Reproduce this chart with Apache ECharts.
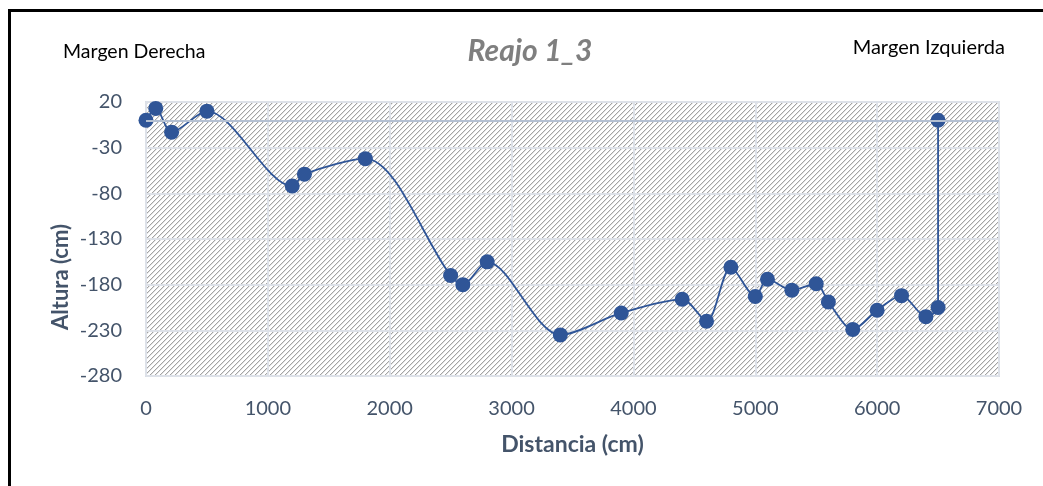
<!DOCTYPE html>
<html>
<head>
<meta charset="utf-8">
<script src="https://cdn.jsdelivr.net/npm/echarts@6/dist/echarts.min.js"></script>
<style>
html, body { margin: 0; padding: 0; background: #fff; }
#main { width: 1043px; height: 486px; }
</style>
</head>
<body>
<div id="main"></div>
<script>
// distancia (cm) y altura (cm) de cada punto del perfil
var distancia = [0, 80, 210, 500, 1200, 1300, 1800, 2500, 2600, 2800, 3400, 3900, 4400, 4600, 4800, 5000, 5100, 5300, 5500, 5600, 5800, 6000, 6200, 6400, 6500, 6500];
var altura = [0, 13, -13, 10, -72, -59, -42, -170, -180, -155, -235, -211, -196, -220, -161, -193, -174, -186, -179, -199, -229, -208, -192, -215, -205, 0];

var titulo = 'Reajo 1_3';
var margenDer = 'Margen Derecha';
var margenIzq = 'Margen Izquierda';
var nombreX = 'Distancia (cm)';
var nombreY = 'Altura (cm)';

var azul = '#2f5597';
var textoEje = '#44546a';
var fuente = 'Lato';

// trama rayada del area de trazado
function trama() {
	var c = document.createElement('canvas');
	c.width = 5;
	c.height = 5;
	var ctx = c.getContext('2d');
	ctx.fillStyle = '#fff';
	ctx.fillRect(0, 0, 5, 5);
	for (var i = 0; i < 5; i++) {
		ctx.fillStyle = '#a3a3a3';
		ctx.fillRect(i, 4 - i, 1, 1);
		ctx.fillStyle = '#e2e2e2';
		ctx.fillRect((i + 1) % 5, 4 - i, 1, 1);
	}
	return c;
}

var puntos = [];
for (var i = 0; i < distancia.length; i++) {
	puntos.push([distancia[i], altura[i]]);
}

var myChart = echarts.init(document.getElementById('main'));
var option = {
	backgroundColor: '#fff',
	animation: false,
	grid: {
		left: 146,
		right: 44,
		top: 102,
		bottom: 110,
		show: true,
		backgroundColor: { image: trama(), repeat: 'repeat' },
		borderColor: '#d9dde4',
		borderWidth: 2
	},
	graphic: [
		{ type: 'rect', shape: { x: 8, y: 9, width: 3, height: 480 }, style: { fill: '#000' } },
		{ type: 'rect', shape: { x: 8, y: 9, width: 1040, height: 3 }, style: { fill: '#000' } },
		{
			type: 'text', x: 63, y: 52,
			style: { text: margenDer, font: '19.5px ' + fuente, fill: '#000', textVerticalAlign: 'middle' }
		},
		{
			type: 'text', x: 1005, y: 48,
			style: { text: margenIzq, font: '20px ' + fuente, fill: '#000', textAlign: 'right', textVerticalAlign: 'middle' }
		},
		{
			type: 'text', x: 530, y: 51,
			style: { text: titulo, font: 'italic bold 30px ' + fuente, fill: '#7f7f7f', textAlign: 'center', textVerticalAlign: 'middle' }
		},
		{
			type: 'text', x: 61, y: 277, rotation: Math.PI / 2,
			style: { text: nombreY, font: 'bold 22px ' + fuente, fill: textoEje, textAlign: 'center', textVerticalAlign: 'middle' }
		}
	],
	xAxis: {
		type: 'value',
		min: 0,
		max: 7000,
		interval: 1000,
		name: nombreX,
		nameLocation: 'middle',
		nameGap: 57,
		nameTextStyle: { color: textoEje, fontSize: 23, fontWeight: 'bold', fontFamily: fuente },
		axisLine: { show: false, onZero: false },
		axisTick: { show: false },
		axisLabel: {
			color: textoEje, fontSize: 20, fontFamily: fuente, margin: 23,
			formatter: function (v) { return String(v); }
		},
		splitLine: { show: true, lineStyle: { color: '#dde1e8', width: 2 } }
	},
	yAxis: {
		type: 'value',
		min: -280,
		max: 20,
		interval: 50,
		axisLine: { show: false },
		axisTick: { show: false },
		axisLabel: { color: textoEje, fontSize: 20, fontFamily: fuente, margin: 24 },
		splitLine: { show: true, lineStyle: { color: '#dde1e8', width: 2 } }
	},
	series: [{
		type: 'line',
		data: puntos,
		smooth: 0.3,
		symbol: 'circle',
		symbolSize: 15,
		itemStyle: { color: azul },
		lineStyle: { color: azul, width: 1.8 },
		markLine: {
			silent: true,
			symbol: 'none',
			label: { show: false },
			lineStyle: { color: '#b4c0d2', width: 2, type: 'solid' },
			data: [{ yAxis: 0 }]
		},
		z: 3
	}]
};
myChart.setOption(option);
window.addEventListener('resize', function () {
	myChart.resize();
});
</script>
</body>
</html>
